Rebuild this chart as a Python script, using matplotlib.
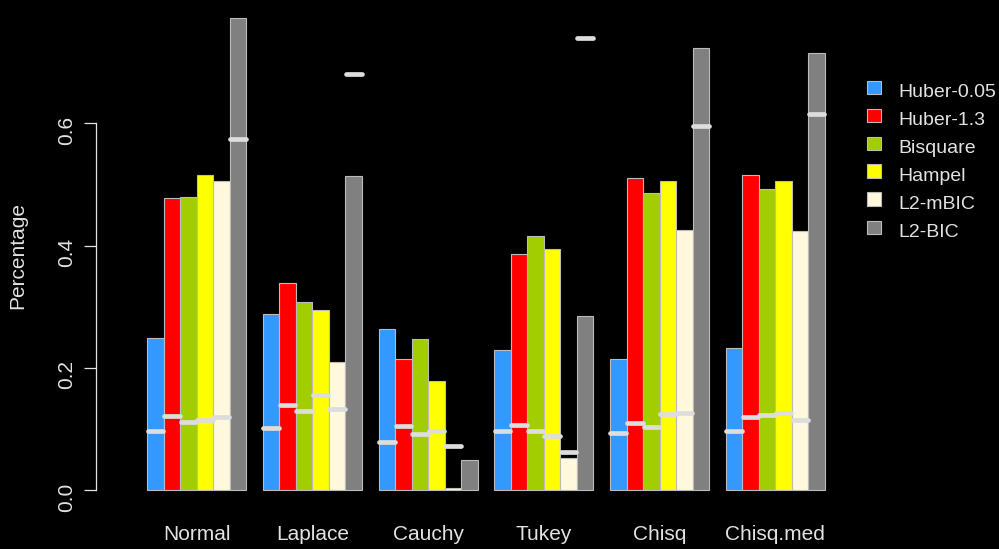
import numpy as np
import matplotlib
matplotlib.use("Agg")
import matplotlib.pyplot as plt
from matplotlib.patches import Rectangle

plt.rcParams["font.family"] = ["Liberation Sans", "DejaVu Sans"]

dists = ["Normal", "Laplace", "Cauchy", "Tukey", "Chisq", "Chisq.med"]
methods = ["Huber-0.05", "Huber-1.3", "Bisquare", "Hampel", "L2-mBIC", "L2-BIC"]
colors = ["#3399FF", "#FF0000", "#A2CD00", "#FFFF00", "#FFF8DC", "#808080"]
yticks = [0.0, 0.2, 0.4, 0.6]

# bar heights, one list per method (across dists)
huber005 = [0.249, 0.288, 0.263, 0.229, 0.215, 0.232]
huber13 = [0.477, 0.339, 0.215, 0.386, 0.510, 0.515]
bisquare = [0.479, 0.308, 0.247, 0.416, 0.486, 0.492]
hampel = [0.516, 0.294, 0.179, 0.395, 0.505, 0.505]
l2mbic = [0.505, 0.210, 0.003, 0.052, 0.425, 0.423]
l2bic = [0.773, 0.514, 0.049, 0.285, 0.723, 0.715]

# white dash markers
huber005_m = [0.096, 0.101, 0.079, 0.097, 0.093, 0.097]
huber13_m = [0.121, 0.139, 0.104, 0.107, 0.110, 0.119]
bisquare_m = [0.112, 0.130, 0.092, 0.097, 0.103, 0.122]
hampel_m = [0.114, 0.155, 0.096, 0.088, 0.124, 0.126]
l2mbic_m = [0.119, 0.133, 0.072, 0.062, 0.126, 0.114]
l2bic_m = [0.575, 0.681, np.nan, 0.739, 0.595, 0.615]

heights = [huber005, huber13, bisquare, hampel, l2mbic, l2bic]
marks = [huber005_m, huber13_m, bisquare_m, hampel_m, l2mbic_m, l2bic_m]

fg = "#E2E2E2"
W, H = 999, 549
fig = plt.figure(figsize=(W / 100, H / 100), dpi=100, facecolor="black")
ax = fig.add_axes([120 / W, 1 - 505 / H, 732 / W, 495 / H], facecolor="black")

ngroup = len(dists)
nbar = len(methods)
for j in range(nbar):
    xs = 1 + np.arange(ngroup) * (nbar + 1) + j + 0.5
    ax.bar(xs, heights[j], width=1.0, color=colors[j], edgecolor="#BBBBBB",
           linewidth=0.8, clip_on=False, zorder=2)
for j in range(nbar):
    xs = 1 + np.arange(ngroup) * (nbar + 1) + j + 0.5
    for x, m in zip(xs, marks[j]):
        if np.isnan(m):
            continue
        ax.plot([x - 0.47, x + 0.47], [m, m], color="#DDDDDD", lw=3.4,
                solid_capstyle="round", clip_on=False, zorder=3)

ax.set_xlim(-0.64, 43.64)
ax.set_ylim(-0.02454, 0.7853)

centers = 1 + np.arange(ngroup) * (nbar + 1) + nbar / 2
ax.set_xticks(centers, labels=dists)
ax.tick_params(axis="x", length=0, pad=14.5, labelsize=15, labelcolor=fg)

ax.set_yticks(yticks, labels=[f"{v:.1f}" for v in yticks])
ax.tick_params(axis="y", length=8.4, width=0.9, color=fg, pad=6,
               labelsize=15, labelcolor=fg, labelrotation=90)
for lab in ax.get_yticklabels():
    lab.set_verticalalignment("center")

for s in ["top", "right", "bottom"]:
    ax.spines[s].set_visible(False)
ax.spines["left"].set_position(("outward", 17))
ax.spines["left"].set_bounds(0, 0.6)
ax.spines["left"].set_color(fg)
ax.spines["left"].set_linewidth(0.9)

fig.text(17.8 / W, 1 - 255.6 / H, "Percentage", rotation=90, ha="center",
         va="center", fontsize=15, color=fg)

# legend
for i, (name, col) in enumerate(zip(methods, colors)):
    yc = 87.2 + i * 28.0
    fig.patches.append(Rectangle((867.3 / W, 1 - (yc + 6.7) / H), 13.4 / W, 13.4 / H,
                                 transform=fig.transFigure, facecolor=col,
                                 edgecolor="#BBBBBB", linewidth=0.8))
    fig.text(898.3 / W, 1 - (yc + 9.5) / H, name, ha="left", va="baseline",
             fontsize=14, color=fg)

fig.savefig("out.png", dpi=100, facecolor="black")
